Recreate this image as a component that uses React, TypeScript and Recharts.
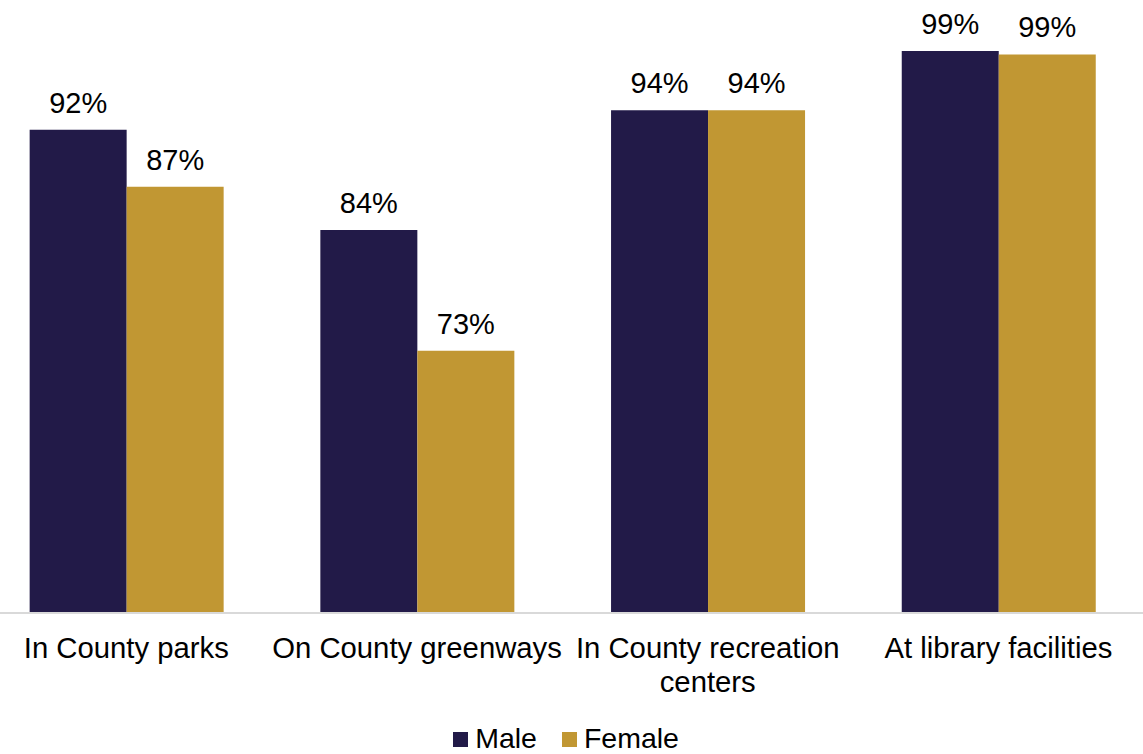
import React from "react";
import { BarChart, Bar, XAxis, YAxis, LabelList, Legend } from "recharts";

const categories = [
  "In County parks",
  "On County greenways",
  "In County recreation centers",
  "At library facilities",
];
const tickLines = [
  ["In County parks"],
  ["On County greenways"],
  ["In County recreation", "centers"],
  ["At library facilities"],
];
const maleValues = [92.4, 83.6, 94.1, 99.3];
const femaleValues = [87.4, 73.0, 94.1, 99.0];
const seriesNames = ["Male", "Female"];
const seriesColors = ["#221a48", "#c19733"];

const data = categories.map((c, i) => ({
  category: c,
  male: maleValues[i],
  female: femaleValues[i],
}));

const FONT = "'Liberation Sans', Arial, sans-serif";

const CategoryTick = (props: any) => {
  const { x, y, index } = props;
  const lines = tickLines[index] || [String(props.payload?.value ?? "")];
  return (
    <g>
      {lines.map((ln: string, k: number) => (
        <text
          key={k}
          x={x}
          y={y + 37 + k * 34}
          textAnchor="middle"
          fill="#000"
          fontSize={29.3}
          fontFamily={FONT}
        >
          {ln}
        </text>
      ))}
    </g>
  );
};

const LegendContent = () => (
  <div
    style={{
      display: "flex",
      justifyContent: "center",
      alignItems: "center",
      height: 30,
      fontFamily: FONT,
      fontSize: 28.5,
      lineHeight: "30px",
      color: "#000",
      paddingLeft: 8,
    }}
  >
    {seriesNames.map((n, i) => (
      <div key={n} style={{ display: "flex", alignItems: "center", marginRight: i === 0 ? 25 : 0 }}>
        <div style={{ width: 15, height: 15, background: seriesColors[i], marginRight: 7, marginTop: 3 }} />
        <span>{n}</span>
      </div>
    ))}
  </div>
);

const fmt = (v: any) => `${Math.round(Number(v))}%`;

export default function App() {
  return (
    <div
      style={{
        position: "fixed",
        left: 0,
        top: 0,
        width: 1143,
        height: 754,
        overflow: "hidden",
        background: "#fff",
      }}
    >
      <div style={{ position: "absolute", left: -19.35, top: 0 }}>
        <BarChart
          width={1162.8}
          height={754}
          data={data}
          margin={{ top: 43, right: 0, left: 0, bottom: 1 }}
          barGap={0}
          barCategoryGap={48.65}
        >
          <XAxis
            dataKey="category"
            height={110}
            tickLine={false}
            axisLine={{ stroke: "#d9d9d9", strokeWidth: 2 }}
            tick={<CategoryTick />}
            interval={0}
          />
          <YAxis hide domain={[50, 100]} />
          <Legend verticalAlign="bottom" height={30} content={<LegendContent />} />
          <Bar dataKey="male" name="Male" fill={seriesColors[0]} isAnimationActive={false}>
            <LabelList
              dataKey="male"
              position="top"
              offset={17}
              formatter={fmt}
              style={{ fill: "#000", fontSize: 29, fontFamily: FONT }}
            />
          </Bar>
          <Bar dataKey="female" name="Female" fill={seriesColors[1]} isAnimationActive={false}>
            <LabelList
              dataKey="female"
              position="top"
              offset={17}
              formatter={fmt}
              style={{ fill: "#000", fontSize: 29, fontFamily: FONT }}
            />
          </Bar>
        </BarChart>
      </div>
    </div>
  );
}
